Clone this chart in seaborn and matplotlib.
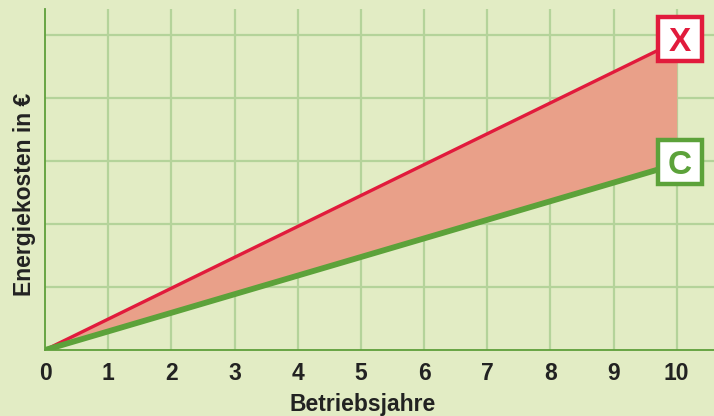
import matplotlib
matplotlib.use("Agg")
import matplotlib.pyplot as plt
import seaborn as sns
import pandas as pd

years = [0, 10]
kosten_x = [0, 4.9]
kosten_c = [0, 2.95]
x_ticks = [0, 1, 2, 3, 4, 5, 6, 7, 8, 9, 10]
y_grid = [1, 2, 3, 4, 5]
labels = ["X", "C"]

bg = "#E2ECC4"
grid_c = "#B4D39A"
spine_c = "#5E9F3A"
red = "#E11B3C"
green = "#5CA23A"
fill_c = "#E9A089"

sns.set_theme(style="white")
plt.rcParams['font.family'] = ['Liberation Sans', 'DejaVu Sans']

fig = plt.figure(figsize=(7.14, 4.16), dpi=100, facecolor=bg)
ax = fig.add_axes([45/714, 66/416, 1 - 45/714, (350-9)/416])
ax.set_facecolor(bg)

df = pd.DataFrame({"Jahr": years + years,
                   "Kosten": kosten_x + kosten_c,
                   "Typ": ["X"] * len(years) + ["C"] * len(years)})

ax.fill_between(years, kosten_c, kosten_x, color=fill_c, lw=0, zorder=2)
sns.lineplot(data=df[df.Typ == "X"], x="Jahr", y="Kosten", color=red, lw=2.4, ax=ax, zorder=3)
sns.lineplot(data=df[df.Typ == "C"], x="Jahr", y="Kosten", color=green, lw=4.2, ax=ax, zorder=4)

for xv in x_ticks[1:]:
    ax.axvline(xv, color=grid_c, lw=1.6, zorder=1)
for yv in y_grid:
    ax.axhline(yv, color=grid_c, lw=1.6, zorder=1)

ax.set_xlim(0, 10.59)
ax.set_ylim(0, 5.41)
ax.set_xticks(x_ticks)
ax.set_xticklabels([str(t) for t in x_ticks], fontsize=16.5, fontweight="bold", color="#222222")
ax.set_yticks([])
ax.tick_params(axis="x", length=0, pad=9)

for s in ["top", "right"]:
    ax.spines[s].set_visible(False)
for s in ["left", "bottom"]:
    ax.spines[s].set_color(spine_c)
    ax.spines[s].set_linewidth(1.3)

ax.set_xlabel("Betriebsjahre", fontsize=16.5, fontweight="bold", color="#222222")
ax.xaxis.set_label_coords(0.475, -0.127)
ax.set_ylabel("Energiekosten in €", fontsize=16.5, fontweight="bold", color="#222222")
ax.yaxis.set_label_coords(-0.014, 0.455)

for label, vals, col in [(labels[0], kosten_x, red), (labels[1], kosten_c, green)]:
    bx, by = years[-1] + 0.05, vals[-1] + 0.03
    ax.plot([bx], [by], marker="s", markersize=31, mfc="white", mec=col, mew=3.2,
            clip_on=False, zorder=6)
    ax.text(bx, by, label, fontsize=24, fontweight="bold", color=col,
            ha="center", va="center_baseline", zorder=7, clip_on=False)

fig.savefig("out.png", dpi=100, facecolor=bg)
